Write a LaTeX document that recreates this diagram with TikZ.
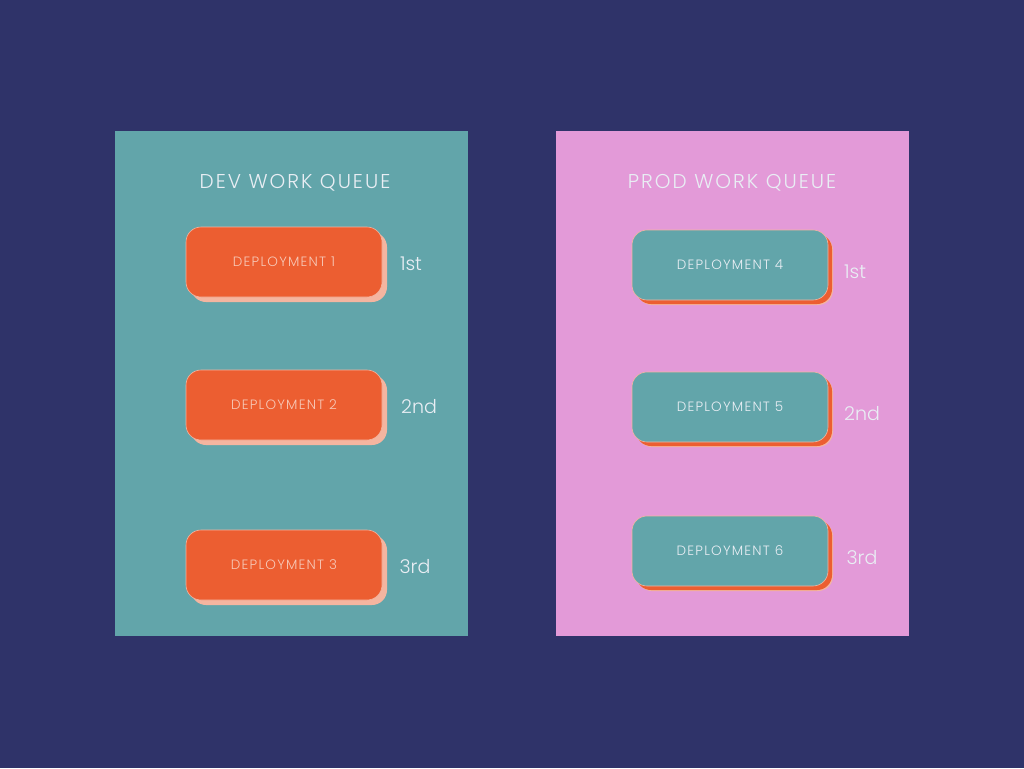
\documentclass[tikz,border=0pt]{standalone}
\usepackage{fontspec}
\setmainfont{Poppins Light}
\usetikzlibrary{shadows}

\definecolor{navy}{HTML}{2F3369}
\definecolor{teal}{HTML}{62A5AA}
\definecolor{pink}{HTML}{E39AD8}
\definecolor{flame}{HTML}{EC5E31}
\definecolor{salmon}{HTML}{F4B5A0}
\definecolor{blush}{HTML}{F7C9B8}
\definecolor{chalk}{HTML}{E9EEF4}

\tikzset{
  queue/.style={text=chalk, font=\fontsize{20}{23}\selectfont\addfontfeature{LetterSpace=10}},
  devbox/.style={fill=flame, draw=salmon, line width=0.6pt, rounded corners=15pt,
    minimum width=196pt, minimum height=70pt, text=blush,
    font=\fontsize{13.5}{15}\selectfont\addfontfeature{LetterSpace=9}},
  devbox/.append style={drop shadow={shadow xshift=5pt, shadow yshift=-5pt, fill=salmon, opacity=1}},
  prodbox/.style={devbox, fill=teal, text=chalk,
    drop shadow={shadow xshift=4pt, shadow yshift=-4pt, fill=flame, opacity=1}},
  rank/.style={text=chalk, font=\fontsize{19}{22}\selectfont}
}

\begin{document}
\begin{tikzpicture}[x=1pt,y=-1pt]
\fill[navy] (0,0) rectangle (1024,768);
\useasboundingbox (0,0) rectangle (1024,768);

% panels
\fill[teal] (115,131) rectangle (468,636);
\fill[pink] (556,131) rectangle (909,636);

\node[queue] (devtitle) at (295,183) {DEV WORK QUEUE};
\node[queue] (prodtitle) at (732,183) {PROD WORK QUEUE};

% dev queue
\foreach \i/\y/\r/\rx in {1/262/1st/411, 2/405/2nd/419, 3/565/3rd/415} {
  \node[devbox] (dev\i) at (284,\y) {DEPLOYMENT \i};
  \node[rank] (devrank\i) at (\rx,\y+2) {\r};
}

% prod queue
\foreach \i/\j/\y/\r/\rx in {4/1/265/1st/855, 5/2/407/2nd/862, 6/3/551/3rd/862} {
  \node[prodbox] (prod\i) at (730,\y) {DEPLOYMENT \i};
  \node[rank] (prodrank\j) at (\rx,\y+7) {\r};
}
\end{tikzpicture}
\end{document}
